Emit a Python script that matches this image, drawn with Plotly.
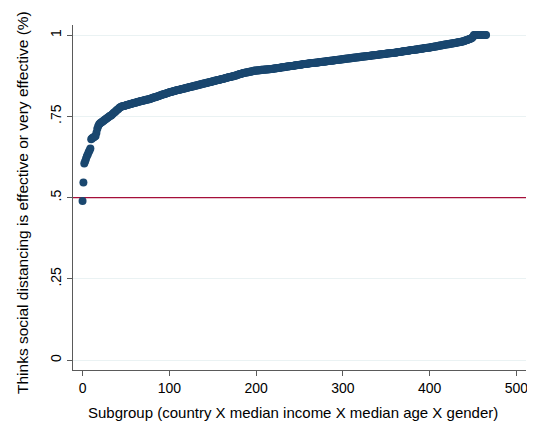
import plotly.graph_objects as go

# Share thinking social distancing is effective, per subgroup, sorted
share_effective = [
    .490,.547,.605,.612,.620,.627,.633,.640,.645,.651,.680,.683,.684,.686,.688,.690,.700,.712,.720,.725,
    .728,.730,.732,.734,.736,.738,.740,.742,.744,.746,.748,.750,.752,.753,.756,.758,.761,.763,.765,.768,
    .770,.772,.775,.777,.779,.780,.781,.782,.782,.783,.784,.785,.786,.786,.787,.788,.789,.789,.790,.791,
    .792,.792,.793,.794,.795,.795,.796,.797,.797,.798,.799,.799,.800,.801,.801,.802,.803,.803,.804,.805,
    .806,.807,.808,.809,.809,.810,.811,.812,.813,.814,.815,.816,.817,.818,.818,.819,.820,.821,.822,.823,
    .824,.825,.825,.826,.827,.827,.828,.829,.830,.830,.831,.832,.832,.833,.834,.834,.835,.836,.836,.837,
    .838,.838,.839,.840,.840,.841,.842,.842,.843,.844,.844,.845,.846,.846,.847,.848,.848,.849,.850,.850,
    .851,.852,.852,.853,.854,.854,.855,.856,.856,.857,.858,.858,.859,.860,.860,.861,.862,.862,.863,.864,
    .864,.865,.866,.866,.867,.868,.869,.869,.870,.871,.871,.872,.873,.873,.874,.875,.875,.876,.877,.878,
    .879,.880,.880,.881,.882,.883,.883,.884,.885,.885,.886,.886,.887,.887,.888,.888,.889,.890,.890,.891,
    .891,.891,.891,.892,.892,.892,.893,.893,.893,.893,.894,.894,.894,.894,.895,.895,.895,.896,.896,.896,
    .897,.897,.897,.898,.898,.899,.899,.899,.900,.900,.901,.901,.901,.902,.902,.903,.903,.903,.904,.904,
    .905,.905,.905,.906,.906,.907,.907,.907,.908,.908,.909,.909,.909,.910,.910,.911,.911,.911,.912,.912,
    .912,.913,.913,.913,.914,.914,.914,.915,.915,.915,.916,.916,.916,.917,.917,.917,.918,.918,.918,.919,
    .919,.919,.920,.920,.920,.921,.921,.921,.922,.922,.922,.923,.923,.923,.924,.924,.924,.925,.925,.926,
    .926,.926,.927,.927,.927,.928,.928,.928,.929,.929,.929,.930,.930,.930,.931,.931,.931,.932,.932,.932,
    .933,.933,.933,.934,.934,.934,.935,.935,.935,.936,.936,.936,.937,.937,.937,.938,.938,.938,.939,.939,
    .939,.940,.940,.940,.941,.941,.941,.942,.942,.942,.943,.943,.943,.944,.944,.944,.945,.945,.945,.946,
    .946,.946,.947,.947,.948,.948,.948,.949,.949,.950,.950,.950,.951,.951,.952,.952,.952,.953,.953,.954,
    .954,.954,.955,.955,.956,.956,.956,.957,.957,.958,.958,.958,.959,.959,.960,.960,.960,.961,.961,.961,
    .962,.962,.963,.963,.964,.964,.965,.965,.966,.966,.967,.967,.968,.968,.969,.969,.970,.970,.971,.971,
    .972,.972,.972,.973,.973,.974,.974,.975,.975,.976,.976,.977,.977,.978,.978,.979,.979,.980,.980,.981,
    .982,.983,.984,.985,.986,.987,.988,.989,.990,.992,.995,1.0,1.0,1.0,1.0,1.0,1.0,1.0,1.0,1.0,
    1.0,1.0,1.0,1.0,1.0,1.0,
]
subgroup_rank = list(range(len(share_effective)))

x_ticks = [0, 100, 200, 300, 400, 500]
y_ticks = [0, 0.25, 0.5, 0.75, 1]
y_tick_labels = ["0", ".25", ".5", ".75", "1"]
reference_level = 0.5
x_range = [-11, 511]
y_range = [-0.03, 1.031]

x_title = "Subgroup (country X median income X median age X gender)"
y_title = "Thinks social distancing is effective or very effective (%)"

font_family = "Liberation Sans, Arial, Helvetica, sans-serif"
axis_color = "#5a5a5a"

fig = go.Figure()
# horizontal reference line at 0.5, drawn as a trace so it sits above the gridlines
fig.add_trace(go.Scatter(
    x=x_range, y=[reference_level, reference_level], mode="lines",
    line=dict(color="#a50f3a", width=1.4), showlegend=False, hoverinfo="skip",
))
fig.add_trace(go.Scatter(
    x=subgroup_rank, y=share_effective, mode="markers",
    marker=dict(size=8, color="#1a476f", line=dict(width=0)),
    showlegend=False, hoverinfo="x+y",
))

fig.add_annotation(text=y_title, xref="paper", yref="paper", x=0, y=0.484,
                   xanchor="center", yanchor="middle", xshift=-51,
                   textangle=-90, showarrow=False,
                   font=dict(size=15.5, color="black"))
fig.add_annotation(text=x_title, xref="paper", yref="paper", x=0.4846, y=0,
                   xanchor="center", yanchor="middle", yshift=-42,
                   showarrow=False, font=dict(size=15, color="black"))

fig.update_layout(
    width=527, height=423,
    margin=dict(l=65, r=7, t=17, b=61),
    paper_bgcolor="white", plot_bgcolor="white",
    font=dict(family=font_family, size=14, color="black"),
    xaxis=dict(
        range=x_range, tickmode="array", tickvals=x_ticks,
        ticks="outside", ticklen=5, tickcolor=axis_color, tickwidth=1,
        showline=True, linecolor=axis_color, linewidth=1,
        showgrid=False, zeroline=False,
        tickfont=dict(size=14),
    ),
    yaxis=dict(
        range=y_range, tickmode="array", tickvals=y_ticks, ticktext=y_tick_labels,
        ticks="outside", ticklen=5, tickcolor=axis_color, tickwidth=1,
        showline=True, linecolor=axis_color, linewidth=1,
        showgrid=True, gridcolor="#eaf2f3", gridwidth=1, zeroline=False,
        tickangle=-90, tickfont=dict(size=14),
    ),
)

fig.write_html("out.html")
